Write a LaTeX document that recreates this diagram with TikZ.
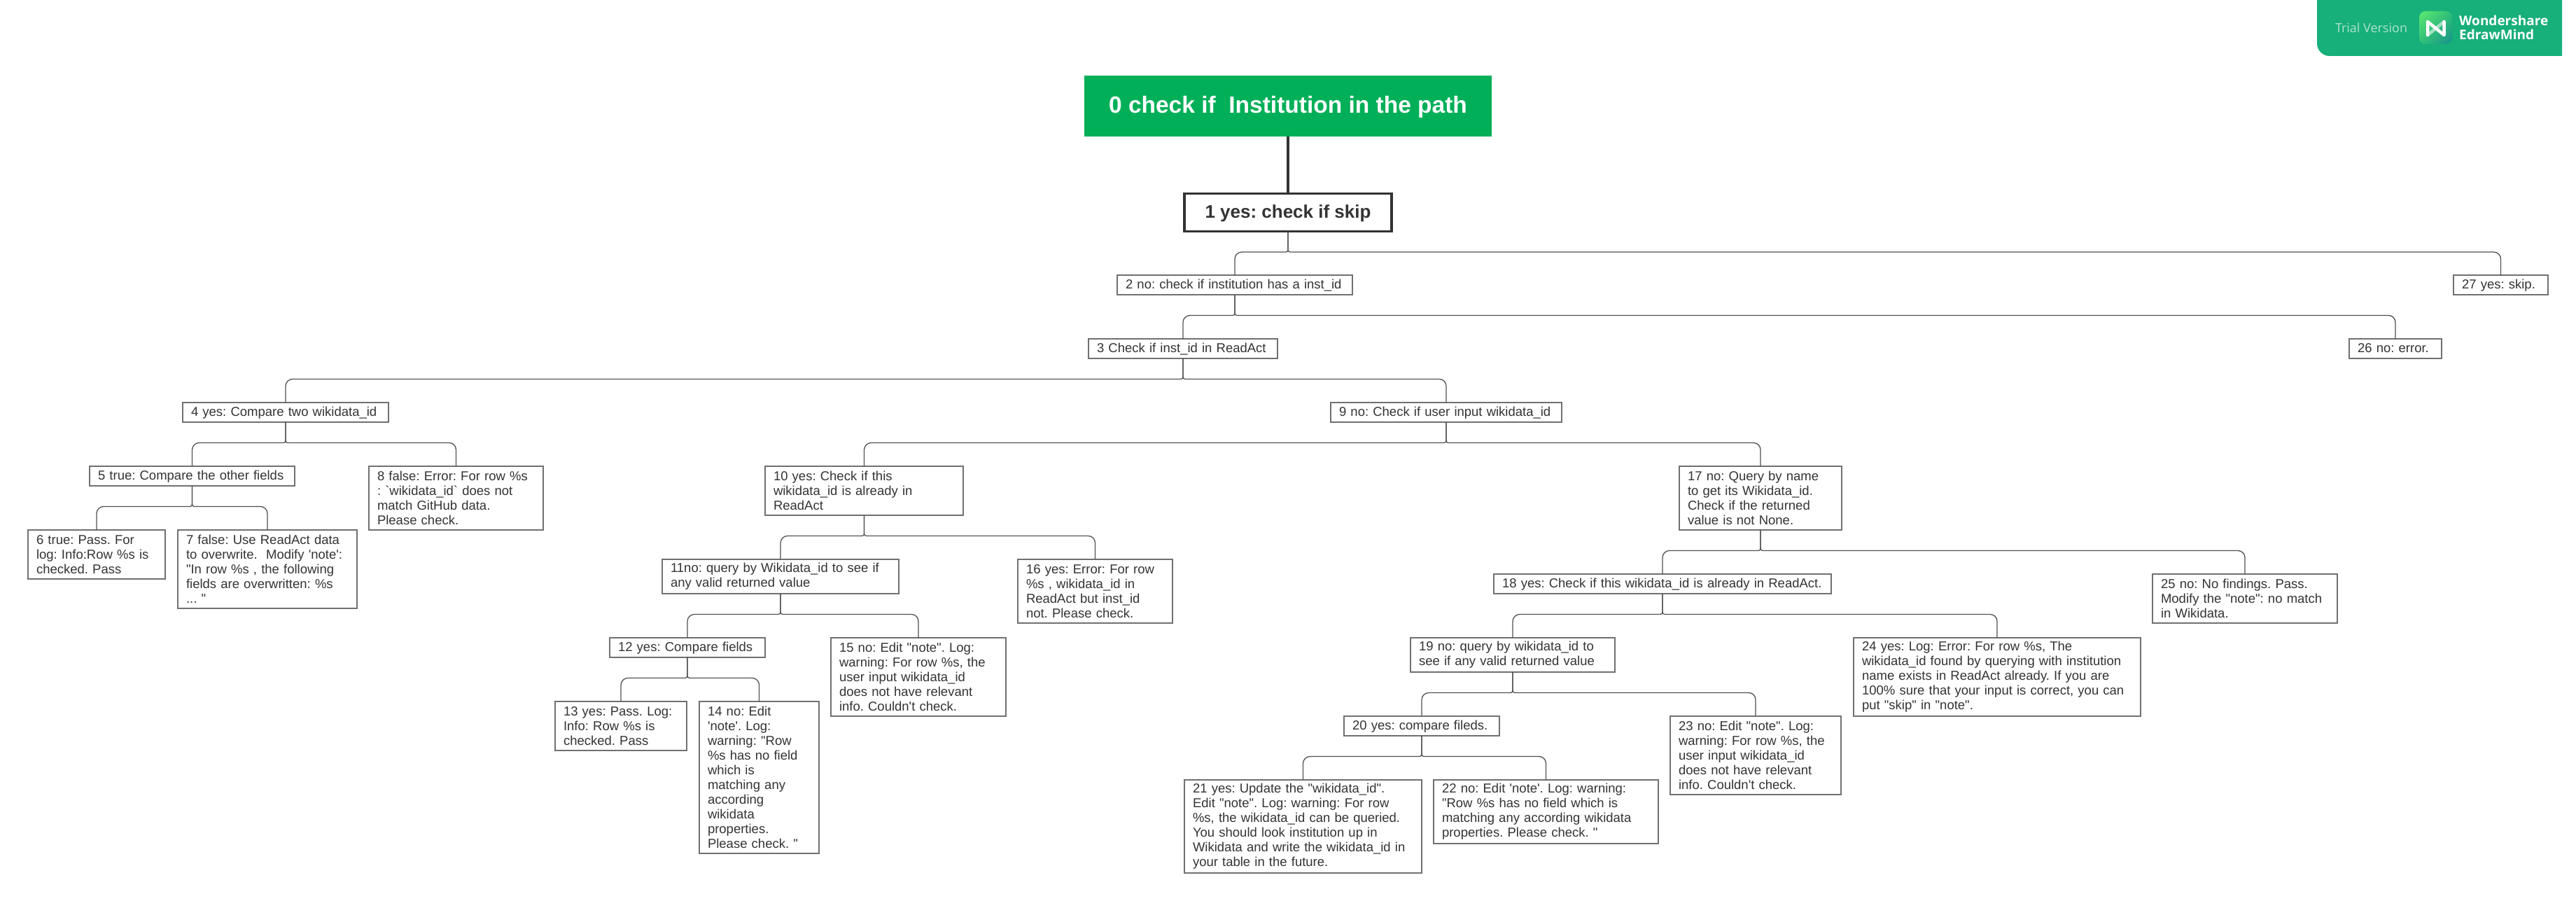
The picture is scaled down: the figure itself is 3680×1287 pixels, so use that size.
\documentclass[tikz,border=0pt]{standalone}
\usepackage{fontspec}
\usepackage{xcolor}
\usetikzlibrary{shadings}
\newfontfamily\boxfont{Liberation Sans}
\newfontfamily\markfont{Open Sans}
\definecolor{rootcolor}{HTML}{00AF58}
\definecolor{markcolor}{HTML}{17AF7A}
\definecolor{textcolor}{HTML}{333333}
\definecolor{edgecolor}{HTML}{707070}
\definecolor{linkcolor}{HTML}{505050}
\definecolor{logolight}{HTML}{5FEA70}
\definecolor{logomid}{HTML}{2FBF78}
\definecolor{logodark}{HTML}{14908C}
\tikzset{
    leaf/.style={draw=edgecolor, line width=2pt, fill=white, text=textcolor, anchor=north west, outer sep=0pt,
        inner xsep=12pt, inner ysep=0pt, align=left, font=\boxfont\frenchspacing\fontsize{18.5}{21}\selectfont},
    stub/.style={leaf, text height=14.5pt, text depth=3pt, minimum height=28pt},
    link/.style={draw=linkcolor, line width=1.3pt}
}

\begin{document}
\begin{tikzpicture}[x=1pt, y=-1pt]
    \useasboundingbox (0, 0) rectangle (3680, 1287);

    % top of the tree
    \node [fill=rootcolor, text=white, minimum width=582pt, minimum height=87pt, outer sep=0pt, text height=26pt, text depth=7pt, font=\boxfont\bfseries\frenchspacing\fontsize{33.5}{38}\selectfont] (n0) at (1840, 151.5) {0 check if\ \ Institution in the path};
    \node [draw=textcolor, line width=3.5pt, text=textcolor, minimum width=296pt, minimum height=54pt, outer sep=0pt, text height=21pt, text depth=5.5pt, font=\boxfont\bfseries\frenchspacing\fontsize{26}{30}\selectfont] (n1) at (1840, 303.5) {1 yes: check if skip};

    % right hand chain
    \node [stub, text width=312pt] (n2) at (1596, 393) {2 no: check if institution has a inst\_id};
    \node [stub, text width=111pt] (n27) at (3505, 393) {27 yes: skip.};
    \node [stub, text width=246pt] (n3) at (1555, 484) {3 Check if inst\_id in ReadAct};
    \node [stub, text width=108pt] (n26) at (3356, 484) {26 no: error.};

    % left branch
    \node [stub, text width=270pt] (n4) at (261, 575) {4 yes: Compare two wikidata\_id};
    \node [stub, text width=269pt] (n5) at (128, 666) {5 true: Compare the other fields};
    \node [leaf, text width=172pt, minimum height=70pt] (n6) at (40, 757) {6 true: Pass. For\\log: Info:Row \%s is\\checked. Pass};
    \node [leaf, text width=232pt, minimum height=112pt] (n7) at (254, 757) {7 false: Use ReadAct data\\to overwrite.\ \ Modify 'note':\\"In row \%s , the following\\fields are overwritten: \%s\\... "};
    \node [leaf, text width=225pt, minimum height=91pt] (n8) at (527, 666) {8 false: Error: For row \%s\\: `wikidata\_id` does not\\match GitHub data.\\Please check.};

    % middle branch
    \node [stub, text width=306pt] (n9) at (1901, 575) {9 no: Check if user input wikidata\_id};
    \node [leaf, text width=259pt, minimum height=70pt] (n10) at (1093, 666) {10 yes: Check if this\\wikidata\_id is already in\\ReadAct};
    \node [leaf, text width=314pt, minimum height=49pt] (n11) at (946, 799) {11no: query by Wikidata\_id to see if\\any valid returned value};
    \node [stub, text width=198pt] (n12) at (871, 911) {12 yes: Compare fields};
    \node [leaf, text width=164pt, minimum height=70pt] (n13) at (793, 1002) {13 yes: Pass. Log:\\Info: Row \%s is\\checked. Pass};
    \node [leaf, text width=147pt, minimum height=217pt] (n14) at (999, 1002) {14 no: Edit\\'note'. Log:\\warning: "Row\\\%s has no field\\which is\\matching any\\according\\wikidata\\properties.\\Please check. "};
    \node [leaf, text width=226pt, minimum height=112pt] (n15) at (1187, 911) {15 no: Edit "note". Log:\\warning: For row \%s, the\\user input wikidata\_id\\does not have relevant\\info. Couldn't check.};
    \node [leaf, text width=197pt, minimum height=91pt] (n16) at (1454, 799) {16 yes: Error: For row\\\%s , wikidata\_id in\\ReadAct but inst\_id\\not. Please check.};

    % right branch
    \node [leaf, text width=208pt, minimum height=91pt] (n17) at (2399, 666) {17 no: Query by name\\to get its Wikidata\_id.\\Check if the returned\\value is not None.};
    \node [stub, text width=458pt] (n18) at (2134, 820) {18 yes: Check if this wikidata\_id is already in ReadAct.};
    \node [leaf, text width=268pt, minimum height=49pt] (n19) at (2015, 911) {19 no: query by wikidata\_id to\\see if any valid returned value};
    \node [stub, text width=198pt] (n20) at (1920, 1023) {20 yes: compare fileds.};
    \node [leaf, text width=315pt, minimum height=133pt] (n21) at (1692, 1114) {21 yes: Update the "wikidata\_id".\\Edit "note". Log: warning: For row\\\%s, the wikidata\_id can be queried.\\You should look institution up in\\Wikidata and write the wikidata\_id in\\your table in the future.};
    \node [leaf, text width=297pt, minimum height=91pt] (n22) at (2048, 1114) {22 no: Edit 'note'. Log: warning:\\"Row \%s has no field which is\\matching any according wikidata\\properties. Please check. "};
    \node [leaf, text width=220pt, minimum height=112pt] (n23) at (2386, 1023) {23 no: Edit "note". Log:\\warning: For row \%s, the\\user input wikidata\_id\\does not have relevant\\info. Couldn't check.};
    \node [leaf, text width=386pt, minimum height=112pt] (n24) at (2648, 911) {24 yes: Log: Error: For row \%s, The\\wikidata\_id found by querying with institution\\name exists in ReadAct already. If you are\\100\% sure that your input is correct, you can\\put "skip" in "note".};
    \node [leaf, text width=240pt, minimum height=70pt] (n25) at (3075, 820) {25 no: No findings. Pass.\\Modify the "note": no match\\in Wikidata.};

    % connectors
    \draw [draw=textcolor, line width=3.5pt] (n0) -- (n1);
    \foreach \pa/\ch in {n1/n2, n1/n27, n2/n3, n2/n26, n3/n4, n3/n9, n4/n5, n4/n8, n5/n6, n5/n7,
        n9/n10, n9/n17, n10/n11, n10/n16, n11/n12, n11/n15, n12/n13, n12/n14,
        n17/n18, n17/n25, n18/n19, n18/n24, n19/n20, n19/n23, n20/n21, n20/n22}
        \draw [link, rounded corners=3pt] (\pa.south) -- ++(0, 29.5) [rounded corners=10pt] -| (\ch.north);

    % trial banner
    \fill [markcolor] (3310, 0) [rounded corners=18pt] -- (3310, 80) [sharp corners] -- (3660, 80) -- (3660, 0) -- cycle;
    \node [text=white!65!markcolor, font=\markfont\fontsize{18}{20}\selectfont, inner sep=0pt] (trial) at (3387.5, 40) {Trial Version};
    \shade [rounded corners=9pt, upper left=logolight, upper right=logomid, lower left=logomid, lower right=logodark] (3456, 16) rectangle (3503, 63);
    \draw [white, opacity=.55, line width=4.5pt, line cap=round] (3468, 50) -- (3491.5, 31);
    \draw [white, line width=4.5pt, line cap=round, line join=round] (3468, 50) -- (3468, 31) -- (3491.5, 50) -- (3491.5, 31);
    \node [text=white, anchor=base west, font=\markfont\bfseries\fontsize{19}{20}\selectfont, inner sep=0pt] (brand) at (3513, 37) {Wondershare};
    \node [text=white, anchor=base west, font=\markfont\bfseries\fontsize{19}{20}\selectfont, inner sep=0pt] (product) at (3513, 57) {EdrawMind};
\end{tikzpicture}
\end{document}
